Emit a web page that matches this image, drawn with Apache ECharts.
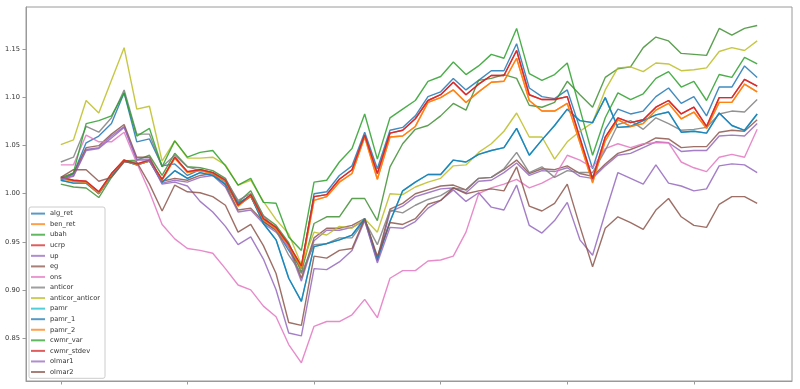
<!DOCTYPE html>
<html><head><meta charset="utf-8">
<script src="https://cdn.jsdelivr.net/npm/echarts@6/dist/echarts.min.js"></script>
<style>html,body{margin:0;padding:0;background:#fff}#c{width:800px;height:389px}</style>
</head><body><div id="c"></div>
<script>
const steps = [0,1,2,3,4,5,6,7,8,9,10,11,12,13,14,15,16,17,18,19,20,21,22,23,24,25,26,27,28,29,30,31,32,33,34,35,36,37,38,39,40,41,42,43,44,45,46,47,48,49,50,51,52,53,54,55];
const xTicks = [0,10,20,30,40,50];
const yTicks = [0.85,0.90,0.95,1.00,1.05,1.10,1.15];
const names = ['alg_ret','ben_ret','ubah','ucrp','up','eg','ons','anticor','anticor_anticor','pamr','pamr_1','pamr_2','cwmr_var','cwmr_stdev','olmar1','olmar2'];

const alg_ret = [1.014,1.021,1.053,1.060,1.073,1.105,1.054,1.057,1.029,1.031,1.019,1.025,1.022,1.012,0.988,0.997,0.971,0.962,0.941,0.922,1.000,1.002,1.019,1.029,1.064,1.026,1.066,1.069,1.081,1.101,1.106,1.120,1.108,1.118,1.128,1.128,1.156,1.110,1.101,1.099,1.108,1.068,1.026,1.067,1.088,1.083,1.086,1.101,1.110,1.094,1.101,1.081,1.111,1.111,1.133,1.121];
const ben_ret = [1.016,1.013,1.012,1.000,1.020,1.035,1.030,1.034,1.014,1.037,1.022,1.024,1.021,1.013,0.987,0.998,0.973,0.963,0.946,0.923,0.993,0.997,1.012,1.021,1.059,1.015,1.059,1.060,1.070,1.095,1.100,1.108,1.095,1.106,1.116,1.117,1.141,1.097,1.086,1.086,1.094,1.053,1.012,1.055,1.077,1.070,1.073,1.087,1.094,1.078,1.085,1.068,1.095,1.095,1.114,1.106];
const ubah = [1.010,1.007,1.006,0.996,1.017,1.034,1.035,1.040,1.019,1.042,1.028,1.027,1.024,1.016,0.991,1.003,0.977,0.967,0.949,0.918,0.969,0.976,0.976,0.995,0.995,0.972,1.028,1.052,1.067,1.071,1.081,1.094,1.087,1.118,1.120,1.124,1.120,1.092,1.090,1.095,1.117,1.103,1.090,1.121,1.130,1.132,1.152,1.163,1.159,1.146,1.145,1.144,1.172,1.165,1.172,1.175];
const ucrp = [1.017,1.014,1.013,1.002,1.021,1.035,1.031,1.035,1.015,1.038,1.023,1.025,1.022,1.014,0.988,0.999,0.974,0.965,0.947,0.925,0.997,0.999,1.015,1.025,1.061,1.021,1.063,1.066,1.078,1.097,1.103,1.116,1.103,1.114,1.123,1.123,1.149,1.103,1.098,1.098,1.101,1.058,1.016,1.059,1.079,1.074,1.077,1.090,1.097,1.083,1.090,1.070,1.100,1.100,1.119,1.112];
const up = [1.016,1.019,1.046,1.048,1.060,1.070,1.036,1.036,1.011,1.014,1.012,1.017,1.019,1.007,0.981,0.983,0.969,0.960,0.944,0.909,0.951,0.962,0.962,0.965,0.972,0.930,0.981,0.987,0.997,1.001,1.005,1.006,1.001,1.013,1.014,1.022,1.032,1.019,1.024,1.023,1.027,1.018,1.016,1.029,1.040,1.042,1.048,1.054,1.053,1.044,1.045,1.045,1.060,1.061,1.060,1.073];
const eg = [1.017,1.021,1.048,1.050,1.062,1.072,1.038,1.038,1.013,1.016,1.014,1.019,1.021,1.009,0.983,0.985,0.971,0.962,0.947,0.912,0.954,0.964,0.964,0.967,0.974,0.933,0.984,0.990,1.000,1.004,1.008,1.009,1.004,1.016,1.017,1.025,1.035,1.021,1.026,1.025,1.029,1.021,1.018,1.031,1.042,1.046,1.051,1.058,1.057,1.048,1.049,1.049,1.064,1.066,1.065,1.077];
const ons = [1.030,1.030,1.061,1.054,1.054,1.064,1.032,1.002,0.968,0.953,0.943,0.941,0.938,0.922,0.905,0.900,0.883,0.872,0.843,0.824,0.862,0.867,0.867,0.874,0.890,0.871,0.912,0.920,0.920,0.930,0.931,0.935,0.960,1.000,1.006,1.010,1.015,1.006,1.011,1.018,1.040,1.035,1.027,1.047,1.052,1.048,1.052,1.053,1.053,1.033,1.027,1.023,1.038,1.041,1.038,1.067];
const anticor = [1.033,1.038,1.070,1.064,1.079,1.108,1.062,1.062,1.028,1.040,1.028,1.024,1.022,1.015,0.993,1.000,0.977,0.962,0.936,0.917,0.947,0.948,0.954,0.954,0.972,0.947,0.983,0.980,0.988,0.994,0.998,1.006,1.004,1.016,1.017,1.026,1.043,1.022,1.028,1.017,1.024,1.022,1.022,1.045,1.072,1.076,1.067,1.079,1.073,1.066,1.067,1.069,1.083,1.086,1.085,1.098];
const anticor_anticor = [1.051,1.056,1.097,1.084,1.118,1.152,1.088,1.091,1.034,1.055,1.037,1.037,1.038,1.030,1.009,1.014,0.992,0.973,0.958,0.926,0.960,0.957,0.966,0.964,0.974,0.960,1.000,0.999,1.007,1.012,1.016,1.029,1.030,1.043,1.052,1.065,1.084,1.059,1.059,1.036,1.054,1.065,1.074,1.108,1.131,1.132,1.127,1.136,1.135,1.128,1.129,1.131,1.148,1.152,1.149,1.159];
const pamr = [1.014,1.011,1.011,1.000,1.019,1.034,1.030,1.034,1.012,1.024,1.016,1.022,1.019,1.010,0.990,0.998,0.969,0.952,0.912,0.888,0.945,0.948,0.952,0.957,0.974,0.931,0.971,1.003,1.012,1.020,1.020,1.035,1.033,1.041,1.045,1.048,1.068,1.040,1.056,1.071,1.088,1.076,1.074,1.100,1.069,1.070,1.076,1.082,1.085,1.064,1.065,1.063,1.084,1.071,1.066,1.083];
const pamr_1 = [1.014,1.011,1.011,1.000,1.019,1.034,1.030,1.034,1.012,1.024,1.016,1.022,1.019,1.010,0.990,0.998,0.969,0.952,0.912,0.888,0.945,0.948,0.952,0.957,0.974,0.931,0.971,1.003,1.012,1.020,1.020,1.035,1.033,1.041,1.045,1.048,1.068,1.040,1.056,1.071,1.088,1.076,1.074,1.100,1.069,1.070,1.076,1.082,1.085,1.064,1.065,1.063,1.084,1.071,1.066,1.083];
const pamr_2 = [1.016,1.013,1.012,1.000,1.020,1.035,1.030,1.034,1.014,1.037,1.022,1.024,1.021,1.013,0.987,0.998,0.973,0.963,0.946,0.922,0.993,0.997,1.012,1.021,1.059,1.015,1.059,1.060,1.070,1.095,1.100,1.108,1.095,1.106,1.116,1.117,1.141,1.097,1.086,1.086,1.094,1.053,1.011,1.055,1.077,1.070,1.073,1.087,1.094,1.078,1.085,1.068,1.095,1.095,1.114,1.106];
const cwmr_var = [1.015,1.022,1.073,1.076,1.081,1.105,1.060,1.068,1.028,1.055,1.038,1.043,1.045,1.029,1.009,1.016,0.991,0.990,0.955,0.941,1.012,1.014,1.033,1.047,1.083,1.036,1.079,1.088,1.097,1.117,1.122,1.137,1.124,1.133,1.145,1.141,1.172,1.125,1.118,1.124,1.136,1.088,1.040,1.079,1.105,1.098,1.104,1.120,1.127,1.111,1.117,1.097,1.124,1.121,1.142,1.135];
const cwmr_stdev = [1.017,1.014,1.013,1.002,1.021,1.035,1.031,1.035,1.015,1.038,1.023,1.025,1.022,1.014,0.988,0.999,0.974,0.965,0.947,0.925,0.997,0.999,1.015,1.025,1.061,1.021,1.063,1.066,1.078,1.097,1.103,1.116,1.103,1.114,1.123,1.123,1.149,1.103,1.098,1.098,1.101,1.058,1.015,1.059,1.079,1.074,1.077,1.090,1.097,1.083,1.090,1.070,1.100,1.100,1.119,1.112];
const olmar1 = [1.015,1.018,1.045,1.047,1.058,1.069,1.035,1.035,1.010,1.012,1.008,0.992,0.981,0.966,0.947,0.955,0.932,0.900,0.855,0.852,0.922,0.921,0.929,0.941,0.972,0.928,0.965,0.964,0.971,0.985,0.993,1.004,0.992,1.001,0.986,0.983,1.009,0.967,0.959,0.972,0.991,0.952,0.936,0.980,1.022,1.016,1.010,1.030,1.011,1.008,1.003,1.005,1.029,1.031,1.030,1.022];
const olmar2 = [1.017,1.025,1.025,1.013,1.017,1.033,1.033,1.010,0.982,1.009,1.002,1.001,0.997,0.988,0.960,0.968,0.946,0.917,0.866,0.863,0.935,0.933,0.941,0.943,0.974,0.935,0.970,0.968,0.974,0.989,0.993,1.006,1.000,1.003,1.005,1.003,1.028,0.987,0.982,0.990,1.010,0.966,0.924,0.964,0.976,0.970,0.963,0.983,0.995,0.976,0.967,0.965,0.989,0.997,0.997,0.990];

const values = [alg_ret,ben_ret,ubah,ucrp,up,eg,ons,anticor,anticor_anticor,pamr,pamr_1,pamr_2,cwmr_var,cwmr_stdev,olmar1,olmar2];
const colors = ['#1f77b4','#ff7f0e','#2ca02c','#d62728','#9467bd','#8c564b','#e377c2','#7f7f7f','#bcbd22','#17becf','#1f77b4','#ff7f0e','#2ca02c','#d62728','#9467bd','#8c564b'];
const lineColors = colors.slice();
lineColors[2] = '#3f8f33';

const chart = echarts.init(document.getElementById('c'), null, {renderer:'canvas'});
const font = 'DejaVu Sans';
chart.setOption({
  animation:false,
  backgroundColor:'#fff',
  grid:{left:26,right:8,top:7,bottom:8,show:true,borderColor:'#9a9a9a',borderWidth:1,backgroundColor:'transparent'},
  xAxis:{type:'value',min:-2.75,max:57.75,
    axisLine:{show:true,onZero:false,lineStyle:{color:'#9a9a9a',width:1}},
    axisTick:{show:true,length:3.5,customValues:xTicks,lineStyle:{color:'#9a9a9a',width:1}},
    axisLabel:{show:false,customValues:xTicks},
    splitLine:{show:false}},
  yAxis:{type:'value',min:0.8051,max:1.1943,
    axisLine:{show:true,onZero:false,lineStyle:{color:'#9a9a9a',width:1}},
    axisTick:{show:true,length:3.5,customValues:yTicks,lineStyle:{color:'#9a9a9a',width:1}},
    axisLabel:{show:true,customValues:yTicks,margin:6,fontSize:6.7,color:'#333',fontFamily:font,formatter:v=>v.toFixed(2)},
    splitLine:{show:false}},
  legend:{show:true,orient:'vertical',left:29,top:207,
    padding:[2.6,5,2.3,2],itemGap:2.56,itemWidth:14,itemHeight:2,icon:'rect',
    backgroundColor:'rgba(255,255,255,0.8)',borderColor:'#cccccc',borderWidth:1,borderRadius:2,
    itemStyle:{opacity:0.75},
    textStyle:{fontSize:6.7,lineHeight:8,color:'#333',fontFamily:font},
    data:names,selectedMode:false},
  series:names.map((n,k)=>({
    name:n,type:'line',showSymbol:false,symbol:'none',
    data:steps.map((s,i)=>[s,values[k][i]]),
    lineStyle:{width:1.4,color:lineColors[k],opacity:0.85},
    itemStyle:{color:colors[k]},
    emphasis:{disabled:true},silent:true,z:2
  }))
});
</script></body></html>
